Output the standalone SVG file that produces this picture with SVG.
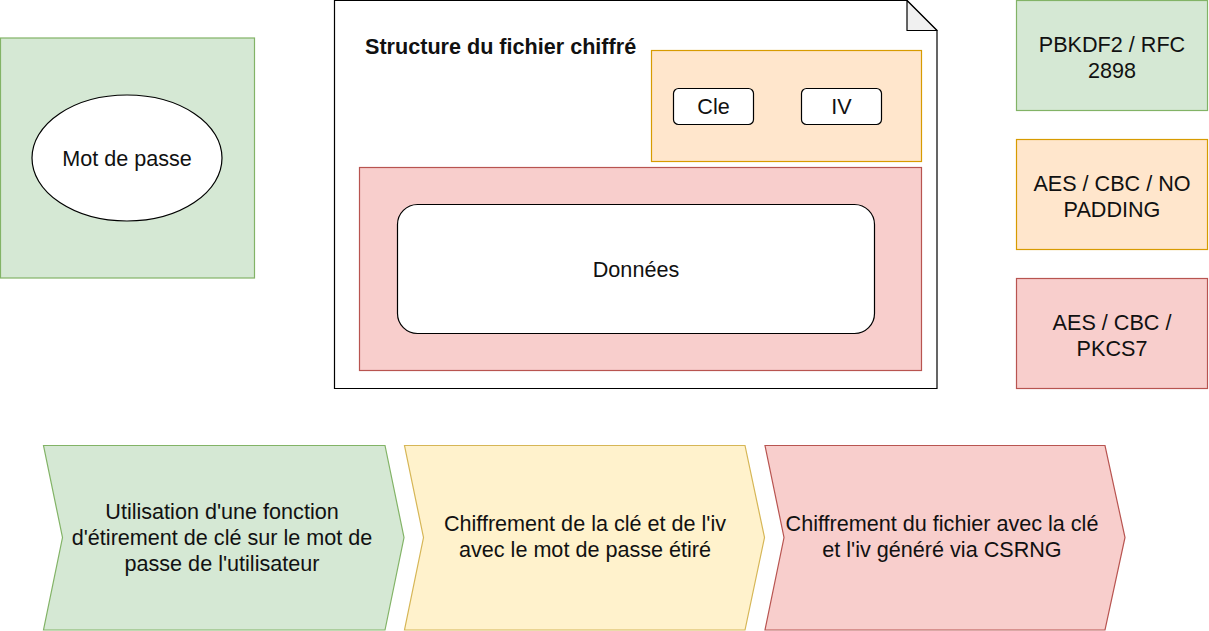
<svg xmlns="http://www.w3.org/2000/svg" width="1209" height="631" viewBox="0 0 1209 631">
<style>
text{font-family:"Liberation Sans",Arial,sans-serif;font-size:21.6px;fill:#111;text-anchor:middle}
.t{font-weight:bold;text-anchor:start}
.g{fill:#d5e8d4;stroke:#82b366;stroke-width:1.2}
.o{fill:#ffe6cc;stroke:#d79b00;stroke-width:1.2}
.r{fill:#f8cecc;stroke:#b85450;stroke-width:1.2}
.y{fill:#fff2cc;stroke:#d6b656;stroke-width:1.2}
.w{fill:#fff;stroke:#000;stroke-width:1.2}
</style>
<rect width="1209" height="631" fill="#fff"/>
<g id="pwd-zone">
<rect class="g" x="0.5" y="38" width="254" height="240"/>
</g>
<g id="pwd">
<ellipse class="w" cx="127" cy="158" rx="95" ry="63"/>
<text x="127" y="166">Mot de passe</text>
</g>
<g id="file">
<path class="w" d="M334.5,0.5 H907 L937,30.5 V388.5 H334.5 Z"/>
<path d="M907,0.5 V30.5 H937 Z" fill="#f0f0f0" stroke="#000" stroke-width="1.2" stroke-linejoin="round"/>
<text class="t" x="365" y="54">Structure du fichier chiffré</text>
</g>
<g id="header">
<rect class="o" x="651.5" y="50.5" width="270" height="111"/>
</g>
<g id="cle">
<rect class="w" x="673.5" y="88.5" width="80" height="36" rx="5"/>
<text x="713.5" y="114">Cle</text>
</g>
<g id="iv">
<rect class="w" x="801.5" y="88.5" width="80" height="36" rx="5"/>
<text x="841.5" y="114">IV</text>
</g>
<g id="body">
<rect class="r" x="359.5" y="167.5" width="562" height="203"/>
</g>
<g id="donnees">
<rect class="w" x="397.5" y="204.5" width="477" height="129" rx="20"/>
<text x="636" y="277">Données</text>
</g>
<g id="pbkdf2">
<rect class="g" x="1016.5" y="0.5" width="191" height="110"/>
<text x="1112" y="52">PBKDF2 / RFC</text>
<text x="1112" y="78">2898</text>
</g>
<g id="aes-nopad">
<rect class="o" x="1016.5" y="139.5" width="191" height="110"/>
<text x="1112" y="191">AES / CBC / NO</text>
<text x="1112" y="217">PADDING</text>
</g>
<g id="aes-pkcs7">
<rect class="r" x="1016.5" y="278.5" width="191" height="110"/>
<text x="1112" y="330">AES / CBC /</text>
<text x="1112" y="356">PKCS7</text>
</g>
<g id="step1">
<path class="g" d="M43.5,445.5 H385 L404,537.5 L385,630 H43.5 L62.5,537.5 Z"/>
<text x="222" y="519">Utilisation d'une fonction</text>
<text x="222" y="545">d'étirement de clé sur le mot de</text>
<text x="222" y="571">passe de l'utilisateur</text>
</g>
<g id="step2">
<path class="y" d="M404.5,445.5 H745 L764.5,537.5 L745,630 H404.5 L423.5,537.5 Z"/>
<text x="585" y="531">Chiffrement de la clé et de l'iv</text>
<text x="585" y="557">avec le mot de passe étiré</text>
</g>
<g id="step3">
<path class="r" d="M765,445.5 H1105 L1125,537.5 L1105,630 H765 L784,537.5 Z"/>
<text x="942" y="531">Chiffrement du fichier avec la clé</text>
<text x="942" y="557">et l'iv généré via CSRNG</text>
</g>
<g id="connectors"></g>
</svg>
